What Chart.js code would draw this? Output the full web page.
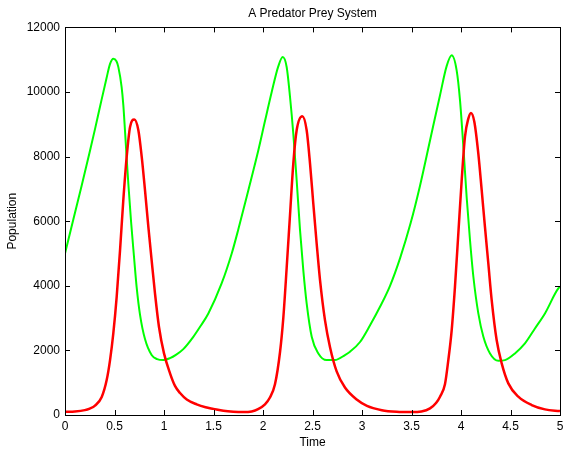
<!DOCTYPE html>
<html>
<head>
<meta charset="utf-8">
<title>A Predator Prey System</title>
<script src="https://cdn.jsdelivr.net/npm/chart.js@4/dist/chart.umd.min.js"></script>
<style>
  html, body { margin: 0; padding: 0; background: #fff; }
  canvas { display: block; }
</style>
</head>
<body>
<canvas id="chart" width="563" height="449"></canvas>
<script>
// values
const preyTime = [0, 0.084, 0.168, 0.25, 0.303, 0.354, 0.421, 0.455, 0.488, 0.52, 0.539, 0.572, 0.589, 0.606, 0.623, 0.64, 0.667, 0.697, 0.724, 0.758, 0.808, 0.875, 0.93, 0.993, 1.061, 1.12, 1.195, 1.296, 1.364, 1.448, 1.582, 1.684, 1.751, 1.852, 1.953, 2.02, 2.088, 2.155, 2.199, 2.239, 2.273, 2.306, 2.34, 2.374, 2.407, 2.441, 2.492, 2.559, 2.643, 2.727, 2.828, 2.879, 2.98, 3.08, 3.182, 3.283, 3.384, 3.492, 3.586, 3.687, 3.788, 3.855, 3.906, 3.956, 3.99, 4.024, 4.057, 4.091, 4.125, 4.175, 4.226, 4.293, 4.377, 4.444, 4.545, 4.646, 4.747, 4.848, 4.983, 5];
const preyValues = [5000, 6050, 7100, 8150, 8850, 9550, 10450, 10870, 11030, 10950, 10770, 10150, 9600, 8800, 7950, 7150, 6000, 4900, 3950, 3100, 2350, 1856, 1730, 1700, 1760, 1860, 2040, 2420, 2730, 3144, 4072, 5000, 5750, 6960, 8196, 9100, 10000, 10800, 11083, 10774, 9845, 8712, 7269, 5722, 4485, 3454, 2423, 1907, 1701, 1701, 1856, 1960, 2260, 2770, 3350, 4000, 4850, 5950, 7100, 8500, 9900, 10800, 11135, 10670, 9740, 8300, 6750, 5410, 4280, 3145, 2423, 1907, 1680, 1700, 1907, 2216, 2680, 3145, 3918, 3960];

const predatorTime = [0, 0.1, 0.2, 0.25, 0.303, 0.371, 0.421, 0.455, 0.488, 0.522, 0.556, 0.589, 0.623, 0.657, 0.7, 0.741, 0.775, 0.808, 0.842, 0.875, 0.909, 0.949, 1.0, 1.061, 1.111, 1.162, 1.23, 1.33, 1.42, 1.5, 1.6, 1.7, 1.8, 1.886, 1.95, 2.02, 2.07, 2.121, 2.172, 2.205, 2.239, 2.273, 2.306, 2.34, 2.397, 2.441, 2.475, 2.508, 2.542, 2.576, 2.626, 2.677, 2.744, 2.828, 2.95, 3.05, 3.2, 3.35, 3.5, 3.6, 3.687, 3.75, 3.788, 3.838, 3.872, 3.906, 3.939, 3.973, 4.007, 4.04, 4.074, 4.101, 4.135, 4.175, 4.209, 4.242, 4.276, 4.31, 4.36, 4.411, 4.478, 4.579, 4.714, 4.848, 5];
const predatorValues = [100, 110, 150, 200, 290, 560, 1082, 1701, 2526, 3660, 5103, 6650, 7990, 8918, 9145, 8815, 7990, 6960, 5825, 4794, 3764, 2733, 1908, 1290, 900, 680, 480, 330, 240, 190, 130, 100, 90, 110, 180, 330, 540, 950, 1950, 3000, 4550, 6200, 7785, 8815, 9248, 8815, 7785, 6548, 5310, 4176, 2938, 2100, 1350, 850, 470, 280, 150, 100, 90, 110, 206, 380, 567, 950, 1700, 2629, 3969, 5619, 7269, 8609, 9176, 9351, 9073, 8093, 6959, 5825, 4691, 3557, 2320, 1598, 979, 567, 309, 175, 120];

const xTicks = [0, 0.5, 1, 1.5, 2, 2.5, 3, 3.5, 4, 4.5, 5];
const yTicks = [0, 2000, 4000, 6000, 8000, 10000, 12000];

const FONT = 'Liberation Sans, Arial, Helvetica, sans-serif';

function toPoints(xs, ys) {
    return xs.map((x, i) => ({ x: x, y: ys[i] }));
}

// matlab style box with inward ticks on all four sides
const boxTicks = {
    id: 'boxTicks',
    afterDraw(chart) {
        const ctx = chart.ctx;
        const a = chart.chartArea;
        const xs = chart.scales.x;
        const ys = chart.scales.y;
        const len = 5;
        ctx.save();
        ctx.strokeStyle = '#000';
        ctx.lineWidth = 1;
        ctx.beginPath();
        xTicks.forEach(v => {
            const px = Math.round(xs.getPixelForValue(v)) + 0.5;
            ctx.moveTo(px, a.bottom);
            ctx.lineTo(px, a.bottom - len);
            ctx.moveTo(px, a.top);
            ctx.lineTo(px, a.top + len);
        });
        yTicks.forEach(v => {
            const py = Math.round(ys.getPixelForValue(v)) + 0.5;
            ctx.moveTo(a.left, py);
            ctx.lineTo(a.left + len, py);
            ctx.moveTo(a.right, py);
            ctx.lineTo(a.right - len, py);
        });
        ctx.stroke();
        ctx.strokeRect(Math.round(a.left) + 0.5, Math.round(a.top) + 0.5,
            Math.round(a.right - a.left), Math.round(a.bottom - a.top));
        ctx.restore();
    }
};

const ctx = document.getElementById('chart').getContext('2d');
new Chart(ctx, {
    type: 'line',
    data: {
        datasets: [{
            label: 'Predator',
            data: toPoints(predatorTime, predatorValues),
            borderColor: '#ff0000',
            borderWidth: 2.5,
            pointRadius: 0,
            fill: false,
            cubicInterpolationMode: 'monotone'
        }, {
            label: 'Prey',
            data: toPoints(preyTime, preyValues),
            borderColor: '#00ff00',
            borderWidth: 2,
            pointRadius: 0,
            fill: false,
            cubicInterpolationMode: 'monotone'
        }]
    },
    options: {
        responsive: false,
        animation: false,
        events: [],
        layout: {
            padding: { left: 0, right: 3, top: 0, bottom: 0 }
        },
        plugins: {
            legend: { display: false },
            tooltip: { enabled: false },
            title: {
                display: true,
                text: 'A Predator Prey System',
                fullSize: false,
                color: '#000',
                font: { family: FONT, size: 12, weight: 'normal', lineHeight: 1.2 },
                padding: { top: 6, bottom: 7 }
            }
        },
        scales: {
            x: {
                type: 'linear',
                min: 0,
                max: 5,
                afterBuildTicks: scale => { scale.ticks = xTicks.map(v => ({ value: v })); },
                afterFit: scale => {
                    scale.height = 34;
                    scale.paddingLeft = 0;
                    scale.paddingRight = 0;
                },
                grid: { display: false, drawTicks: false },
                border: { display: false },
                ticks: {
                    color: '#000',
                    padding: 4,
                    maxRotation: 0,
                    font: { family: FONT, size: 12 },
                    callback: v => String(v)
                },
                title: {
                    display: true,
                    text: 'Time',
                    color: '#000',
                    font: { family: FONT, size: 12, lineHeight: 1 },
                    padding: { top: 0, bottom: 0 }
                }
            },
            y: {
                min: 0,
                max: 12000,
                afterBuildTicks: scale => { scale.ticks = yTicks.map(v => ({ value: v })); },
                afterFit: scale => { scale.width = 65; },
                grid: { display: false, drawTicks: false },
                border: { display: false },
                ticks: {
                    color: '#000',
                    padding: 5,
                    font: { family: FONT, size: 12 },
                    callback: v => String(v)
                },
                title: {
                    display: true,
                    text: 'Population',
                    color: '#000',
                    font: { family: FONT, size: 12, lineHeight: 1 },
                    padding: { top: 7, bottom: 0 }
                }
            }
        }
    },
    plugins: [boxTicks]
});
</script>
</body>
</html>
